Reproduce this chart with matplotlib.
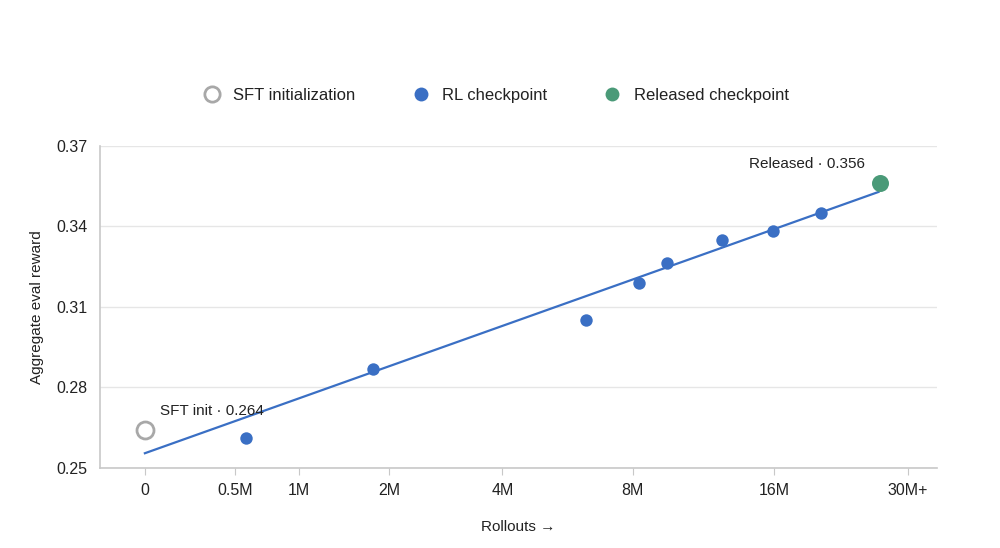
import numpy as np
import matplotlib
matplotlib.use('Agg')
import matplotlib.pyplot as plt
from matplotlib.lines import Line2D

plt.rcParams['font.family'] = ['Liberation Sans', 'DejaVu Sans']

# data (rollouts in raw counts)
sft_x = [0]
sft_y = [0.264]
rl_x = [0.58e6, 1.79e6, 6.3e6, 8.25e6, 9.5e6, 12.45e6, 15.9e6, 20.0e6]
rl_y = [0.2612, 0.2868, 0.3051, 0.3189, 0.3265, 0.3349, 0.3382, 0.3451]
rel_x = [26.4e6]
rel_y = [0.356]
trend_x = [0, 26.2e6]
trend_y = [0.2555, 0.3528]

xticks = [0, 0.5e6, 1e6, 2e6, 4e6, 8e6, 16e6, 30e6]
xticklabels = ['0', '0.5M', '1M', '2M', '4M', '8M', '16M', '30M+']
yticks = [0.25, 0.28, 0.31, 0.34, 0.37]

blue = '#3a6fc4'
green = '#4a9a78'
gray = '#a8a8a8'
text_c = '#222222'

fig = plt.figure(figsize=(10, 5.48), dpi=100)
ax = fig.add_axes([0.1, 0.146, 0.837, 0.588])

ax.set_xscale('function', functions=(lambda x: np.log1p(x / 1e6),
                                      lambda y: np.expm1(y) * 1e6))

ax.plot(trend_x, trend_y, color=blue, lw=1.6, zorder=2)
ax.scatter(rl_x, rl_y, s=80, color=blue, zorder=3, linewidths=0)
ax.scatter(rel_x, rel_y, s=150, color=green, zorder=3, linewidths=0)
ax.scatter(sft_x, sft_y, s=150, facecolor='white', edgecolor=gray, linewidths=2, zorder=3)

ax.annotate(f'SFT init · {sft_y[0]:.3f}', (sft_x[0], sft_y[0]), xytext=(15, 12),
            textcoords='offset pixels', ha='left', va='bottom', fontsize=11, color=text_c)
ax.annotate(f'Released · {rel_y[0]:.3f}', (rel_x[0], rel_y[0]), xytext=(-15, 12),
            textcoords='offset pixels', ha='right', va='bottom', fontsize=11, color=text_c)

ax.set_xlim(-0.183e6, 34.4e6)
ax.set_ylim(0.25, 0.37)
ax.set_xticks(xticks)
ax.set_xticklabels(xticklabels)
ax.set_yticks(yticks)
ax.set_yticklabels([f'{v:.2f}' for v in yticks])
ax.xaxis.set_minor_locator(matplotlib.ticker.NullLocator())

ax.grid(axis='y', color='#e6e6e6', lw=1)
ax.set_axisbelow(True)
for s in ['top', 'right']:
    ax.spines[s].set_visible(False)
for s in ['left', 'bottom']:
    ax.spines[s].set_color('#c8c8c8')
    ax.spines[s].set_linewidth(1.2)
ax.tick_params(axis='x', length=5, color='#c8c8c8', pad=6, labelsize=11.5, labelcolor=text_c)
ax.tick_params(axis='y', length=0, pad=9, labelsize=11.5, labelcolor=text_c)

ax.set_xlabel('Rollouts →', fontsize=11, color=text_c, labelpad=16)
ax.set_ylabel('Aggregate eval reward', fontsize=11, color=text_c, labelpad=9)

handles = [
    Line2D([], [], marker='o', ls='', markersize=11, markerfacecolor='white',
           markeredgecolor=gray, markeredgewidth=2),
    Line2D([], [], marker='o', ls='', markersize=10, color=blue, markeredgewidth=0),
    Line2D([], [], marker='o', ls='', markersize=10, color=green, markeredgewidth=0),
]
labels = ['SFT initialization', 'RL checkpoint', 'Released checkpoint']
fig.legend(handles, labels, loc='center', bbox_to_anchor=(0.492, 0.826), ncol=3,
           frameon=False, fontsize=12, handletextpad=0.3, columnspacing=2.9,
           labelcolor=text_c)

fig.savefig('out.png', dpi=100, facecolor='white')
